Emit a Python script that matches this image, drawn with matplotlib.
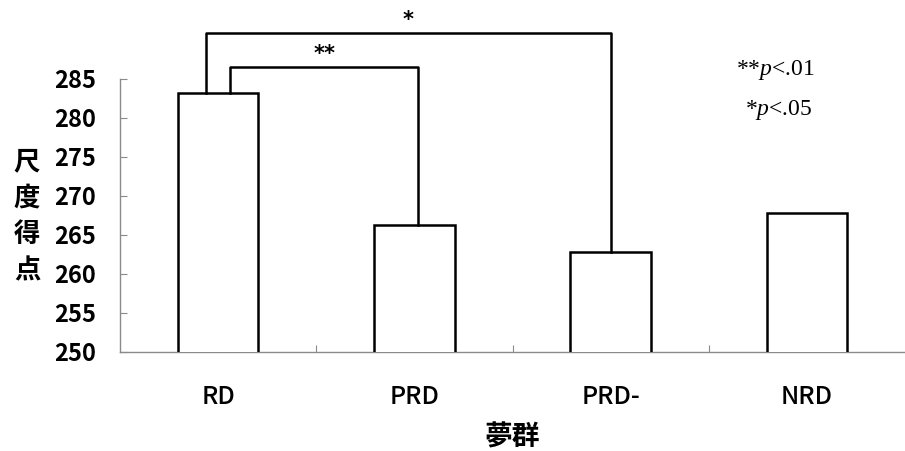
import matplotlib
matplotlib.use("Agg")
import matplotlib.pyplot as plt

groups = ["RD", "PRD", "PRD-", "NRD"]
scores = [283.2, 266.3, 262.8, 267.8]
y_ticks = [250, 255, 260, 265, 270, 275, 280, 285]

# significance brackets: (left x, right x, height, label)
brackets = [(-0.06, 2.0, 290.9, "*"), (0.06, 1.02, 286.5, "**")]
notes = ["**$p$<.01", "*$p$<.05"]

plt.rcParams["mathtext.fontset"] = "custom"
plt.rcParams["mathtext.it"] = "Liberation Serif:italic"
plt.rcParams["mathtext.rm"] = "Liberation Serif"

jp = ["Noto Sans CJK JP", "DejaVu Sans"]

fig = plt.figure(figsize=(9.05, 4.51), dpi=100, facecolor="white")
ax = fig.add_axes([120 / 905, 99 / 451, 785 / 905, 273 / 451])

x = list(range(len(groups)))
ax.bar(x, scores, width=0.41, bottom=0, color="white", edgecolor="black", linewidth=1.8, zorder=3)

ax.set_xlim(-0.5, 3.5)
ax.set_ylim(250, 285)
ax.set_yticks(y_ticks)
ax.set_xticks([0.5, 1.5, 2.5])
ax.set_xticklabels([])

for s in ["top", "right"]:
    ax.spines[s].set_visible(False)
for s in ["left", "bottom"]:
    ax.spines[s].set_color("#8a8a8a")
    ax.spines[s].set_linewidth(1.0)

ax.tick_params(axis="y", direction="in", length=5, color="#8a8a8a", pad=17,
               labelsize=17)
ax.tick_params(axis="x", direction="in", length=5, color="#8a8a8a")
for lab in ax.get_yticklabels():
    lab.set_family(jp)
    lab.set_fontweight("bold")

for i, g in enumerate(groups):
    ax.text(i, -45 / 273, g, transform=ax.get_xaxis_transform(), ha="center", va="center",
            fontsize=18, family=jp, fontweight="medium")

for x0, x1, h, lab in brackets:
    base0 = scores[0]
    base1 = scores[int(round(x1))]
    ax.plot([x0, x0, x1, x1], [base0, h, h, base1], color="black", lw=1.8,
            clip_on=False, zorder=4)
    ax.text((x0 + x1) / 2, h + 0.4, lab, ha="center", va="bottom",
            fontsize=15, fontweight="bold", family="DejaVu Sans", clip_on=False)

fig.text(775 / 905, 1 - 70 / 451, notes[0], ha="center", va="center", fontsize=17,
         family="Liberation Serif")
fig.text(779 / 905, 1 - 110 / 451, notes[1], ha="center", va="center", fontsize=17,
         family="Liberation Serif")

fig.text(27 / 905, 1 - 216 / 451, "尺\n度\n得\n点", ha="center", va="center", fontsize=19,
         family=jp, fontweight="bold", linespacing=1.45)
fig.text(512 / 905, 1 - 437 / 451, "夢群", ha="center", va="center", fontsize=20,
         family=jp, fontweight="bold")

fig.savefig("out.png", dpi=100, facecolor="white")
